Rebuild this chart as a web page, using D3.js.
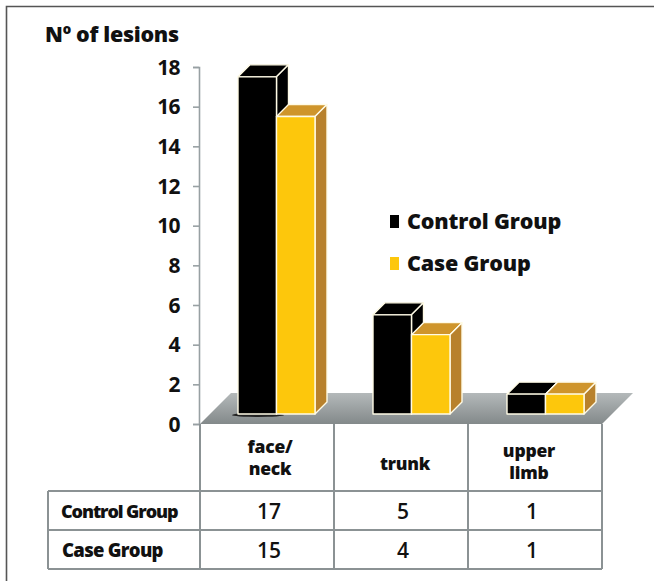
<!DOCTYPE html>
<html><head><meta charset="utf-8">
<script src="https://cdnjs.cloudflare.com/ajax/libs/d3/7.8.5/d3.min.js"></script>
<style>html,body{margin:0;padding:0;background:#fff}svg{display:block}text{font-family:"Open Sans",sans-serif;font-weight:800;fill:#111}</style>
</head><body><svg id="c" width="654" height="581"></svg>
<script>
const categories = [["face/","neck"],["trunk"],["upper","limb"]];
const seriesNames = ["Control Group","Case Group"];
const controlValues = [17,5,1];
const caseValues = [15,4,1];
const yTicks = [0,2,4,6,8,10,12,14,16,18];
const seriesFront = ["#000000","#fdc70c"];
const seriesSide = ["#000000","#b8812c"];
const seriesTop = ["#000000","#cf952b"];
const axisGrey = "#98a0a3", tableGrey = "#8b9294";

const svg = d3.select("#c");
const defs = svg.append("defs");
const g = defs.append("linearGradient").attr("id","fl").attr("x1",0).attr("y1",0).attr("x2",0).attr("y2",1);
g.append("stop").attr("offset",0).attr("stop-color","#b4b9ba");
g.append("stop").attr("offset",1).attr("stop-color","#83898a");

// frame
svg.append("path").attr("d","M6.5,581V6.5H654").attr("fill","none").attr("stroke","#555").attr("stroke-width",1.6);

const axisX=199, floorDepth=31;
const y = d3.scaleLinear().domain([0,18]).range([424,67]);
const tableX = d3.scaleLinear().domain([0,3]).range([200,602]);
const barH = v => y(0)-y(v);
const baseY = 414, depth=12, barW=38.5;
const barStart = [238,373,507];

// floor
svg.append("path").attr("fill","url(#fl)")
 .attr("d",d3.line()([[tableX(0),y(0)],[tableX(3),y(0)],[tableX(3)+floorDepth,y(0)-floorDepth],[tableX(0)+floorDepth,y(0)-floorDepth]])+"Z");
// shadow under first bar
svg.append("ellipse").attr("cx",258).attr("cy",415).attr("rx",26).attr("ry",2).attr("fill","#222");

// axis
const yAxis = d3.axisLeft(y).tickValues(yTicks).tickSize(6).tickPadding(13);
const ax = svg.append("g").attr("transform",`translate(${axisX},0)`).call(yAxis);
ax.selectAll("line,path").attr("stroke",axisGrey).attr("stroke-width",1.6);
ax.selectAll("text").style("font-size","21px").style("letter-spacing","-0.6px").style("font-family","'Open Sans',sans-serif").style("font-weight",700).attr("fill","#111").attr("dy","0.34em");

// title
svg.append("text").attr("x",45).attr("y",42).style("font-size","21.5px").style("letter-spacing","-0.3px").text("Nº of lesions");

// bars
[controlValues,caseValues].forEach((vals,s)=>{
  const bars = svg.append("g").selectAll("g").data(vals).join("g");
  bars.each(function(v,i){
    const x0 = barStart[i]+s*barW, h=barH(v), t=baseY-h, x1=x0+barW, G=d3.select(this);
    const lw = {stroke:"#fffbe6","stroke-width":1.4,"stroke-linejoin":"round"};
    const top=G.append("path").attr("fill",seriesTop[s]).attr("d",`M${x0},${t}L${x0+depth},${t-depth}H${x1+depth}L${x1},${t}Z`);
    const side=G.append("path").attr("fill",seriesSide[s]).attr("d",`M${x1},${t}L${x1+depth},${t-depth}V${baseY-depth}L${x1},${baseY}Z`);
    const front=G.append("rect").attr("x",x0).attr("y",t).attr("width",barW).attr("height",h).attr("fill",seriesFront[s]);
    [top,side,front].forEach(e=>Object.entries(lw).forEach(([k,a])=>e.attr(k,a)));
  });
});

// legend
const legendBase=[229,271];
seriesNames.forEach((n,i)=>{
  svg.append("rect").attr("x",390).attr("y",legendBase[i]-14).attr("width",9).attr("height",13).attr("fill",seriesFront[i]);
  svg.append("text").attr("x",407).attr("y",legendBase[i]).style("font-size","21.5px").style("letter-spacing","-0.15px").text(n);
});

// table
const rowY=[424,491,530,569];
const grid = svg.append("g").attr("stroke",tableGrey).attr("stroke-width",2).attr("fill","none");
d3.range(4).forEach(i=>grid.append("line").attr("x1",tableX(i)).attr("x2",tableX(i)).attr("y1",rowY[0]).attr("y2",rowY[3]));
grid.append("line").attr("x1",48).attr("x2",48).attr("y1",rowY[1]).attr("y2",rowY[3]);
rowY.slice(1).forEach(r=>grid.append("line").attr("x1",48).attr("x2",602).attr("y1",r).attr("y2",r));

// category labels
const catX=[270,405,529], catBase=[453,470,457], catLead=[22,0,22];
categories.forEach((c,i)=>{
  c.forEach((t,j)=>svg.append("text").attr("x",catX[i]).attr("y",catBase[i]+j*catLead[i]).attr("text-anchor","middle").style("font-size","17.5px").style("letter-spacing","-0.2px").text(t));
});
// rows
const rowNameX=[61,62], rowNameSpace=[-1.1,-0.7], rowNameSize=[18,18.5];
[controlValues,caseValues].forEach((vals,s)=>{
  svg.append("text").attr("x",rowNameX[s]).attr("y",rowY[s+1]+27).style("font-size",rowNameSize[s]+"px").style("letter-spacing",rowNameSpace[s]+"px").text(seriesNames[s]);
  vals.forEach((v,i)=>svg.append("text").attr("x",[269,403,532][i]).attr("y",rowY[s+1]+28).attr("text-anchor","middle").style("font-size","21px").style("font-weight",600).text(v));
});
</script></body></html>
